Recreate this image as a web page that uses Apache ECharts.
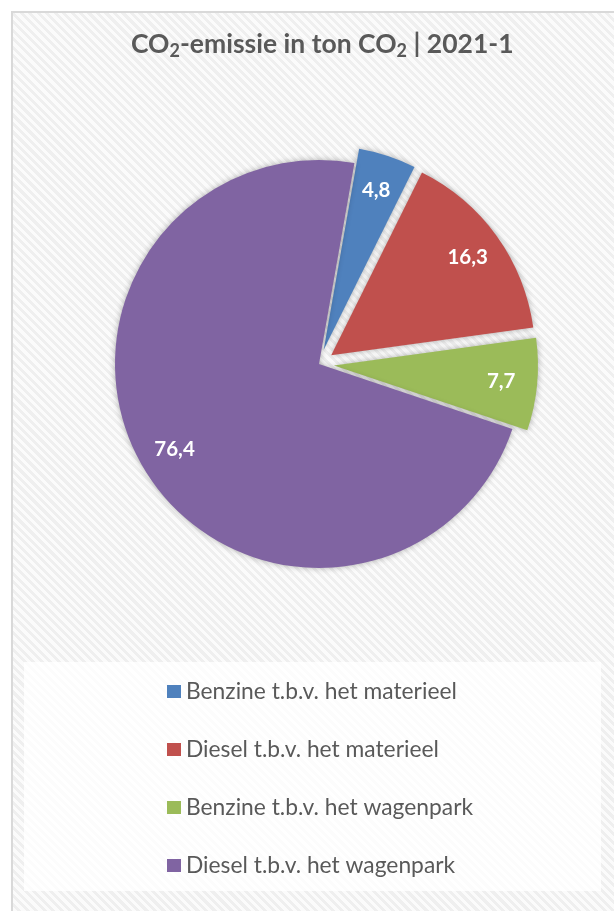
<!DOCTYPE html>
<html>
<head>
<meta charset="utf-8">
<script src="https://cdn.jsdelivr.net/npm/echarts@6/dist/echarts.min.js"></script>
<style>
  html, body { margin: 0; padding: 0; background: #fff; }
  #wrap { position: relative; width: 614px; height: 911px; overflow: hidden; }
  #frame {
    position: absolute; left: 11px; top: 11px; width: 640px; height: 940px;
    border: 2px solid #d9d9d9;
    background: repeating-linear-gradient(45deg, #fbfbfb 0 3px, #efefef 3px 6px);
  }
  #chart { position: absolute; left: 0; top: 0; width: 614px; height: 911px; }
</style>
</head>
<body>
<div id="wrap">
  <div id="frame"></div>
  <div id="chart"></div>
</div>
<script>
  // brandstof-categorieen en CO2 in ton
  const categories = [
    'Benzine t.b.v. het materieel',
    'Diesel t.b.v. het materieel',
    'Benzine t.b.v. het wagenpark',
    'Diesel t.b.v. het wagenpark'
  ];
  const values = [4.8, 16.3, 7.7, 76.4];
  const colors = ['#4f81bd', '#c0504d', '#9bbb59', '#8064a2'];
  const exploded = [true, true, true, false];

  const fmt = v => String(v).replace('.', ',');
  const data = categories.map((name, i) => ({
    name: name,
    value: values[i],
    selected: exploded[i],
    itemStyle: { color: colors[i] }
  }));

  const chart = echarts.init(document.getElementById('chart'), null, { renderer: 'canvas' });

  const option = {
    backgroundColor: 'transparent',
    animation: false,
    color: colors,
    title: {
      text: '{a|CO}{s|2}{a|-emissie in ton CO}{s|2}{a| | 2021-1}',
      left: 126,
      top: 22,
      textStyle: {
        rich: {
          a: { fontFamily: 'Lato', fontWeight: 'bold', fontSize: 26.5, color: '#595959', lineHeight: 34 },
          s: { fontFamily: 'Lato', fontWeight: 'bold', fontSize: 18, color: '#595959', lineHeight: 34, padding: [14, 0, 0, 0] }
        }
      }
    },
    graphic: [{
      type: 'rect',
      left: 24, top: 662,
      shape: { width: 577, height: 229 },
      style: { fill: 'rgba(255,255,255,0.82)' },
      z: -1
    }],
    legend: {
      orient: 'vertical',
      left: 162,
      top: 675,
      itemWidth: 14,
      itemHeight: 13,
      itemGap: 35,
      selectedMode: false,
      icon: 'rect',
      textStyle: { fontFamily: 'Lato', fontSize: 22.8, lineHeight: 23, color: '#595959' },
      data: categories
    },
    series: [
      {
        type: 'pie',
        center: [319, 364],
        radius: [0, 204],
        startAngle: 80,
        clockwise: true,
        selectedMode: 'multiple',
        selectedOffset: 15,
        emphasis: { disabled: true },
        itemStyle: {
          borderWidth: 0,
          shadowBlur: 6,
          shadowColor: 'rgba(0,0,0,0.3)'
        },
        label: { show: false },
        labelLine: { show: false },
        data: data
      },
      {
        // transparente ring om de labels op ~0.8r te zetten
        type: 'pie',
        center: [319, 364],
        radius: [126, 204],
        startAngle: 80,
        clockwise: true,
        selectedMode: 'multiple',
        selectedOffset: 15,
        silent: true,
        emphasis: { disabled: true },
        itemStyle: { color: 'transparent' },
        label: {
          show: true,
          position: 'inside',
          formatter: p => fmt(p.value),
          fontFamily: 'Lato',
          fontWeight: 'bold',
          fontSize: 20.5,
          color: '#ffffff'
        },
        labelLine: { show: false },
        data: categories.map((name, i) => ({ name: name, value: values[i], selected: exploded[i] }))
      }
    ]
  };

  chart.setOption(option);
</script>
</body>
</html>
